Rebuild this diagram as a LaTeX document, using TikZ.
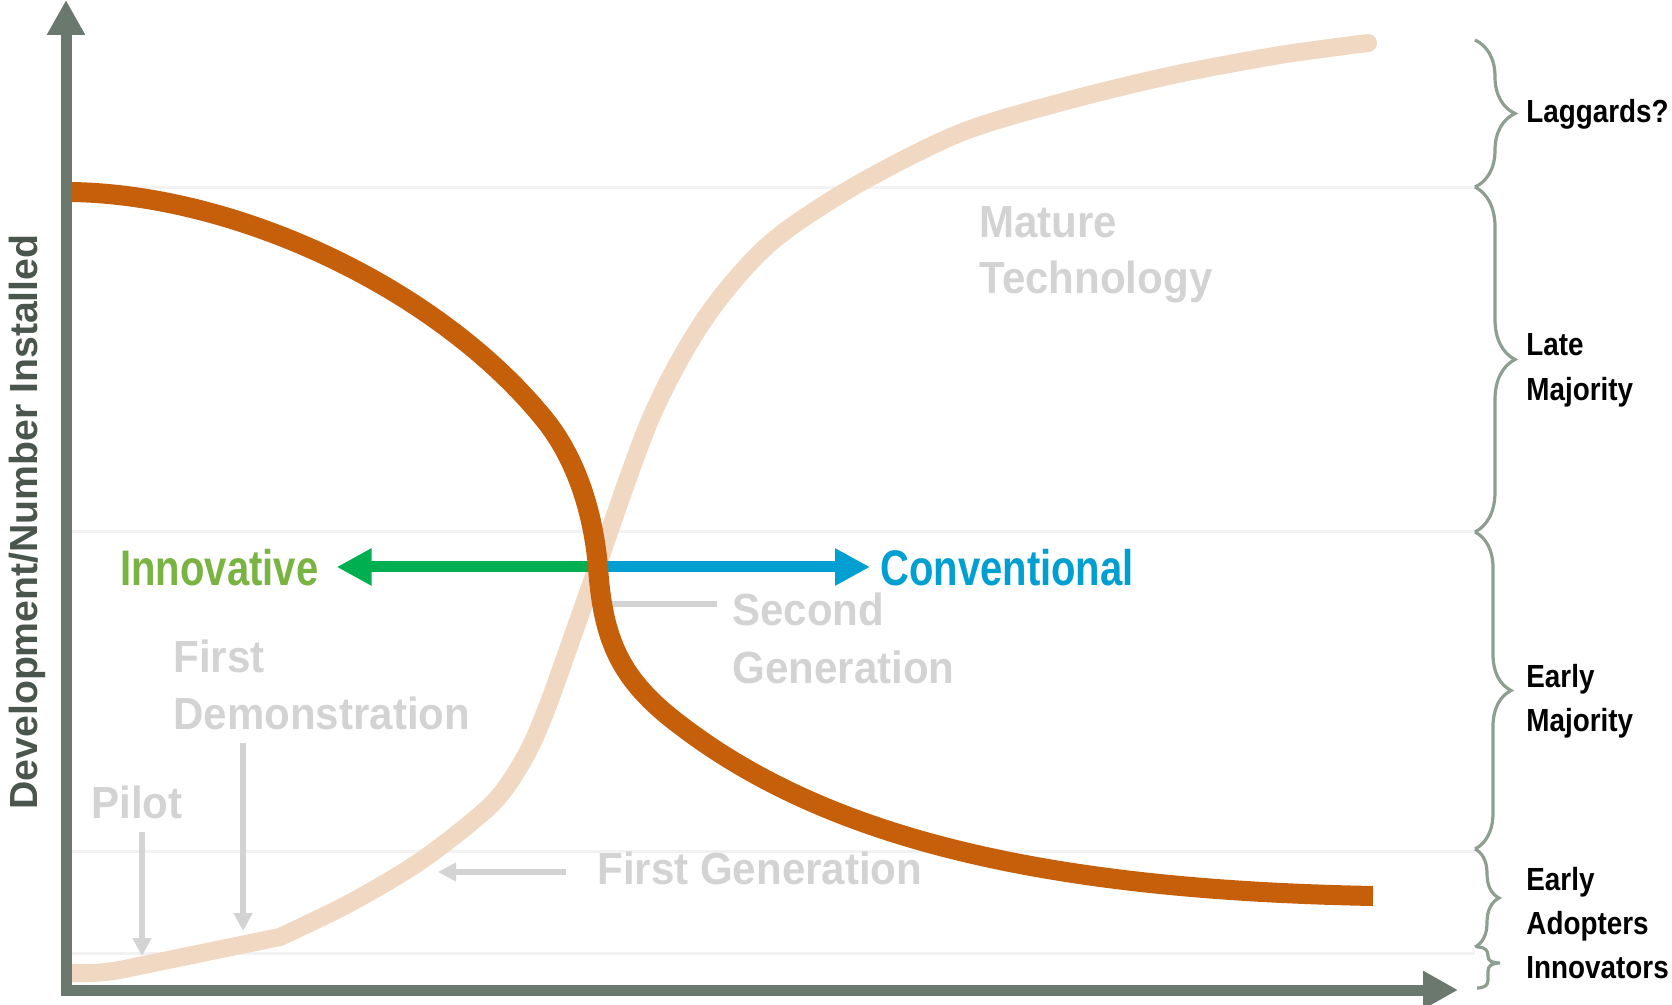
\documentclass[tikz,border=0pt]{standalone}
\usepackage{fontspec}
\setmainfont{Liberation Sans}
\newfontfamily\stagefont[FakeStretch=0.935]{Liberation Sans}
\newfontfamily\groupfont[FakeStretch=0.87]{Liberation Sans}
\newfontfamily\trendfont[FakeStretch=0.8]{Liberation Sans}
\usepackage{tikz}
\usetikzlibrary{arrows.meta}
\usetikzlibrary{decorations.pathreplacing}

\definecolor{axisgray}{HTML}{6B786D}
\definecolor{labelgray}{HTML}{4A554C}
\definecolor{gridgray}{HTML}{F2F2F2}
\definecolor{bracegray}{HTML}{8E9E90}
\definecolor{stagegray}{HTML}{D3D3D3}
\definecolor{declineorange}{HTML}{C65F0A}
\definecolor{adoptpeach}{HTML}{F0D8C2}
\definecolor{innogreen}{HTML}{00B050}
\definecolor{innotext}{HTML}{79B341}
\definecolor{convblue}{HTML}{009FD1}

\begin{document}
\begin{tikzpicture}[x=0.5pt, y=-0.5pt,
  axis/.style={draw=axisgray, line width=5.5pt, -{Triangle[length=17.5pt, width=18pt]}},
  grid line/.style={draw=gridgray, line width=1.5pt},
  group brace/.style={draw=bracegray, line width=1.6pt, decorate, decoration={brace, amplitude=#1}},
  stage/.style={text=stagegray, font=\stagefont\bfseries\fontsize{22.5}{27}\selectfont, inner sep=0pt, anchor=base west},
  group/.style={text=black, font=\groupfont\bfseries\fontsize{16}{20}\selectfont, inner sep=0pt, anchor=base west},
  trend/.style={font=\trendfont\bfseries\fontsize{25}{30}\selectfont, inner sep=0pt, anchor=base west},
  pointer/.style={draw=stagegray, line width=3pt, -{Triangle[length=9pt, width=9pt]}},
  trend arrow/.style={line width=5.5pt, -{Triangle[length=17.5pt, width=17.5pt]}}]

  \useasboundingbox (0,0) rectangle (1672,1005);

  % Grid lines
  \foreach \y in {188,532,851,953}
    \draw[grid line] (72,\y) -- (1475,\y);

  % Nodes
  \node[rotate=90, anchor=base, text=labelgray, inner sep=0pt,
    font=\bfseries\fontsize{19.6}{24}\selectfont] (ylabel) at (38,522) {Development/Number Installed};

  \node[trend, text=innotext] (innovative) at (120,586) {Innovative};
  \node[trend, text=convblue] (conventional) at (880,586) {Conventional};

  \node[stage] (mature) at (979,238) {Mature};
  \node[stage] (technology) at (979,294) {Technology};
  \node[stage] (second) at (732,625) {Second};
  \node[stage] (generation) at (732,683) {Generation};
  \node[stage] (first) at (173,673) {First};
  \node[stage] (demo) at (173,729) {Demonstration};
  \node[stage] (pilot) at (91,818) {Pilot};
  \node[stage] (firstgen) at (597,884) {First Generation};

  \node[group] (laggards) at (1526,123) {Laggards?};
  \node[group] (late) at (1526,356) {Late};
  \node[group] (lateB) at (1526,401) {Majority};
  \node[group] (early) at (1526,688) {Early};
  \node[group] (earlyB) at (1526,732) {Majority};
  \node[group] (adopt) at (1526,890) {Early};
  \node[group] (adoptB) at (1526,934) {Adopters};
  \node[group] (innovators) at (1526,978) {Innovators};

  % Adoption curve
  \draw[draw=adoptpeach, line width=9pt, line cap=round, line join=round]
    (72,973) .. controls (105,974) and (120,970) .. (139,966) -- (280,937)
    -- plot[smooth] coordinates {(280,937) (350,903) (422,860) (492,804) (525,757)
      (548,705) (590,587) (650,420) (704,320) (768,245) (853,187) (960,133)
      (1066,101) (1173,75) (1280,55) (1368,43)};

  % Innovative / conventional
  \coordinate (crossing) at (594,567);
  \draw[trend arrow, draw=innogreen, shorten >=9pt] (crossing) -- (innovative.east |- crossing);
  \draw[trend arrow, draw=convblue, shorten >=5pt] (crossing) -- (conventional.west |- crossing);

  % Pointers
  \coordinate (pilotTip) at (142,956);
  \coordinate (demoTip) at (243,931);
  \coordinate (genTip) at (438,872);
  \coordinate (secondEnd) at (606,604);
  \draw[pointer, shorten <=6.5pt] (pilot.south -| pilotTip) -- (pilotTip);
  \draw[pointer, shorten <=6.5pt] (demo.south -| demoTip) -- (demoTip);
  \draw[pointer, shorten <=15.5pt] (firstgen.west |- genTip) -- (genTip);
  \draw[draw=stagegray, line width=3pt, shorten >=7.5pt] (secondEnd) -- (second.west |- secondEnd);

  % Development curve
  \draw[draw=declineorange, line width=10pt, line join=round]
    (72,192) .. controls (240,195) and (440,290) .. (545,420)
    .. controls (570,451) and (592,500) .. (598,567)
    .. controls (603,640) and (620,680) .. (680,725)
    .. controls (830,840) and (1050,890) .. (1373,896);

  % Axes
  \draw[axis] (66,996) -- (66,0);
  \draw[axis] (61,990) -- (1458,990);

  % Braces
  \draw[group brace=20pt] (1475,40) -- (1475,187);
  \draw[group brace=20pt] (1475,187) -- (1475,532);
  \draw[group brace=18pt] (1475,532) -- (1475,849);
  \draw[group brace=12pt] (1475,849) -- (1475,947);
  \draw[draw=bracegray, line width=1.6pt] (1477,947) .. controls (1486,947) and (1488,951) .. (1488,956)
    .. controls (1488,961) and (1492,963) .. (1500,963) .. controls (1492,963) and (1488,966) .. (1488,971)
    -- (1488,980) .. controls (1488,985) and (1485,988) .. (1477,988);
\end{tikzpicture}
\end{document}
